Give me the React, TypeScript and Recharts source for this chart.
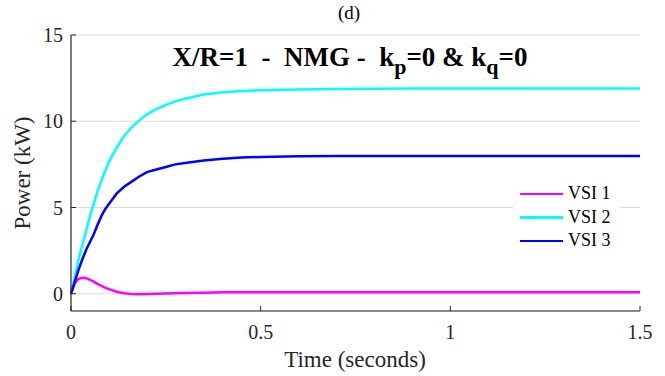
import React from 'react';
import { LineChart, Line, XAxis, YAxis, CartesianGrid } from 'recharts';

// time in seconds
const time = [0, 0.01, 0.02, 0.03, 0.04, 0.05, 0.06, 0.07, 0.08, 0.09, 0.1, 0.12, 0.14, 0.16, 0.18, 0.2, 0.225, 0.25, 0.275, 0.3, 0.35, 0.4, 0.45, 0.5, 0.6, 0.7, 0.8, 0.9, 1.0, 1.1, 1.2, 1.3, 1.4, 1.5];

// power in kW
const vsi1 = [0, 0.62, 0.87, 0.93, 0.9, 0.8, 0.7, 0.57, 0.46, 0.36, 0.27, 0.12, 0.03, -0.01, -0.03, -0.02, 0, 0.02, 0.03, 0.04, 0.06, 0.08, 0.08, 0.08, 0.08, 0.08, 0.08, 0.08, 0.08, 0.08, 0.08, 0.08, 0.08, 0.08];
const vsi2 = [0, 1.0, 2.0, 2.85, 3.65, 4.5, 5.2, 5.95, 6.55, 7.1, 7.65, 8.45, 9.15, 9.65, 10.05, 10.4, 10.7, 10.95, 11.15, 11.3, 11.55, 11.68, 11.75, 11.8, 11.84, 11.87, 11.88, 11.9, 11.9, 11.9, 11.9, 11.9, 11.9, 11.9];
const vsi3 = [0, 0.7, 1.4, 2.0, 2.55, 3.0, 3.45, 4.0, 4.5, 4.9, 5.2, 5.8, 6.2, 6.5, 6.8, 7.05, 7.2, 7.35, 7.5, 7.58, 7.72, 7.82, 7.9, 7.93, 7.97, 7.99, 7.99, 7.98, 7.98, 7.98, 7.98, 7.98, 7.98, 7.98];

const xTicks = [0, 0.5, 1, 1.5];
const yTicks = [0, 5, 10, 15];

const seriesNames = ['VSI 1', 'VSI 2', 'VSI 3'];
const seriesColors = ['#ff00ff', '#00ffff', '#0000ff'];

const data = time.map((t, i) => ({ t, vsi1: vsi1[i], vsi2: vsi2[i], vsi3: vsi3[i] }));

const FONT = '"Liberation Serif", "Times New Roman", serif';
const AXIS = '#262626';

const YTick = (props: any) => {
  const { x, y, payload } = props;
  return (
    <g>
      <line x1={x + 8} x2={x + 13} y1={y} y2={y} stroke={AXIS} strokeWidth={1} />
      <text x={x} y={y} dy="0.35em" textAnchor="end" fontFamily={FONT} fontSize={20} fill={AXIS}>
        {payload.value}
      </text>
    </g>
  );
};

const XTick = (props: any) => {
  const { x, y, payload } = props;
  return (
    <g>
      <line x1={x} x2={x} y1={y - 8} y2={y - 13} stroke={AXIS} strokeWidth={1} />
      <text x={x} y={y + 20} textAnchor="middle" fontFamily={FONT} fontSize={20} fill={AXIS}>
        {payload.value}
      </text>
    </g>
  );
};

const LegendBox = () => (
  <div style={{ position: 'absolute', left: 513, top: 181, background: '#fff', width: 107, padding: '1px 0', fontFamily: FONT, fontSize: 18, color: '#000' }}>
    {seriesNames.map((n, i) => (
      <div key={n} style={{ display: 'flex', alignItems: 'center', height: 23.5 }}>
        <span style={{ display: 'inline-block', width: 43, height: 2.5, background: seriesColors[i], marginLeft: 7, marginRight: 5 }} />
        <span>{n}</span>
      </div>
    ))}
  </div>
);

export default function App() {
  return (
    <div style={{ position: 'absolute', left: 0, top: 0, width: 665, height: 376, background: '#fff' }}>
      <LineChart width={665} height={376} data={data} margin={{ top: 35, right: 25, left: 31, bottom: 35 }}>
        <CartesianGrid vertical={false} stroke="#dcdcdc" strokeWidth={1.2} />
        <XAxis
          dataKey="t"
          type="number"
          domain={[0, 1.5]}
          ticks={xTicks}
          height={30}
          tickSize={0}
          tickMargin={8}
          tick={<XTick />}
          axisLine={{ stroke: AXIS, strokeWidth: 1.2 }}
        />
        <YAxis
          type="number"
          domain={[-1, 15]}
          ticks={yTicks}
          width={40}
          tickSize={0}
          tickMargin={8}
          tick={<YTick />}
          axisLine={{ stroke: AXIS, strokeWidth: 1.2 }}
        />
        <Line type="linear" dataKey="vsi1" name={seriesNames[0]} stroke={seriesColors[0]} strokeWidth={2.5} dot={false} isAnimationActive={false} />
        <Line type="linear" dataKey="vsi2" name={seriesNames[1]} stroke={seriesColors[1]} strokeWidth={2.5} dot={false} isAnimationActive={false} />
        <Line type="linear" dataKey="vsi3" name={seriesNames[2]} stroke={seriesColors[2]} strokeWidth={2.5} dot={false} isAnimationActive={false} />
        <text x={349} y={19} textAnchor="middle" fontFamily={FONT} fontSize={19} fill="#000">(d)</text>
        <text x={350} y={66} textAnchor="middle" fontFamily={FONT} fontSize={27} fontWeight="bold" fill="#000" style={{ whiteSpace: 'pre' }}>
          <tspan>{'X/R=1  -  NMG -  k'}</tspan>
          <tspan dy={8} fontSize={22}>p</tspan>
          <tspan dy={-8}>{'=0 & k'}</tspan>
          <tspan dy={8} fontSize={22}>q</tspan>
          <tspan dy={-8}>=0</tspan>
        </text>
        <text x={355} y={367} textAnchor="middle" fontFamily={FONT} fontSize={23} fill={AXIS}>Time (seconds)</text>
        <text x={30} y={173} textAnchor="middle" fontFamily={FONT} fontSize={23} fill={AXIS} transform="rotate(-90 30 173)">Power (kW)</text>
      </LineChart>
      <LegendBox />
    </div>
  );
}
